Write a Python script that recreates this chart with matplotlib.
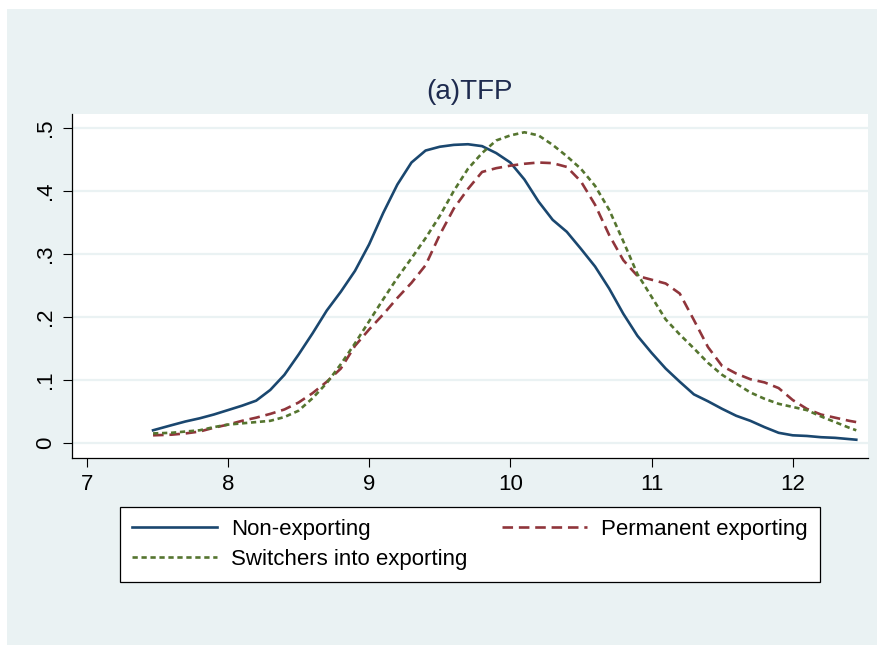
import matplotlib
matplotlib.use("Agg")
import matplotlib.pyplot as plt
from matplotlib.patches import Rectangle

# data (kernel densities of TFP)
x_tfp = [7.47, 7.6, 7.7, 7.8, 7.9, 8.0, 8.1, 8.2, 8.3, 8.4, 8.5, 8.6, 8.7, 8.8, 8.9,
         9.0, 9.1, 9.2, 9.3, 9.4, 9.5, 9.6, 9.7, 9.8, 9.9, 10.0, 10.1, 10.2, 10.3,
         10.4, 10.5, 10.6, 10.7, 10.8, 10.9, 11.0, 11.1, 11.2, 11.3, 11.4, 11.5,
         11.6, 11.7, 11.8, 11.9, 12.0, 12.1, 12.2, 12.3, 12.4, 12.45]

non_exporting = [0.020, 0.028, 0.034, 0.039, 0.045, 0.052, 0.059, 0.067, 0.084, 0.108,
                 0.140, 0.174, 0.210, 0.240, 0.273, 0.315, 0.365, 0.410, 0.445, 0.464,
                 0.470, 0.473, 0.474, 0.471, 0.460, 0.445, 0.418, 0.383, 0.354, 0.335,
                 0.308, 0.280, 0.245, 0.205, 0.170, 0.143, 0.118, 0.097, 0.077, 0.066,
                 0.054, 0.043, 0.035, 0.025, 0.016, 0.012, 0.011, 0.009, 0.008, 0.006, 0.005]

permanent = [0.012, 0.013, 0.015, 0.018, 0.024, 0.029, 0.035, 0.040, 0.046, 0.053,
             0.064, 0.079, 0.097, 0.118, 0.154, 0.180, 0.204, 0.230, 0.254, 0.282,
             0.330, 0.372, 0.403, 0.430, 0.436, 0.440, 0.443, 0.445, 0.444, 0.438,
             0.415, 0.378, 0.330, 0.290, 0.265, 0.259, 0.253, 0.237, 0.195, 0.152,
             0.122, 0.110, 0.101, 0.096, 0.087, 0.068, 0.054, 0.045, 0.040, 0.035, 0.033]

switchers = [0.015, 0.016, 0.018, 0.020, 0.025, 0.029, 0.031, 0.033, 0.035, 0.041,
             0.051, 0.071, 0.095, 0.125, 0.158, 0.193, 0.228, 0.262, 0.293, 0.325,
             0.360, 0.400, 0.435, 0.460, 0.480, 0.488, 0.493, 0.488, 0.473, 0.455,
             0.435, 0.408, 0.370, 0.320, 0.268, 0.232, 0.196, 0.172, 0.150, 0.127,
             0.108, 0.094, 0.080, 0.070, 0.062, 0.057, 0.052, 0.042, 0.033, 0.024, 0.020]

x_ticks = [7, 8, 9, 10, 11, 12]
y_ticks = [0, 0.1, 0.2, 0.3, 0.4, 0.5]
y_tick_labels = ["0", ".1", ".2", ".3", ".4", ".5"]

plt.rcParams['font.family'] = ['Liberation Sans', 'DejaVu Sans']

W, H = 878, 645
fig = plt.figure(figsize=(W / 100, H / 100), dpi=100, facecolor="white")
# stata-like light background, behind everything
bg = Rectangle((7 / W, 0), 1 - 7 / W, (H - 9) / H, transform=fig.transFigure,
               facecolor="#EAF2F3", edgecolor="none", zorder=-10)
fig.add_artist(bg)

ax = fig.add_axes([72 / W, (H - 458) / H, (868 - 72) / W, (458 - 114) / H])
ax.set_facecolor("white")

for yv in y_ticks:
    ax.axhline(yv, color="#EAF2F3", lw=1.6, zorder=1)

l1, = ax.plot(x_tfp, non_exporting, color="#1A476F", lw=1.9, zorder=3)
l2, = ax.plot(x_tfp, permanent, color="#90353B", lw=1.9, dashes=(4, 2.2), zorder=3)
l3, = ax.plot(x_tfp, switchers, color="#55752F", lw=1.9, dashes=(2, 1.4), zorder=3)

ax.set_xlim(6.896, 12.533)
ax.set_ylim(-0.024, 0.522)
ax.set_xticks(x_ticks)
ax.set_yticks(y_ticks)
ax.set_yticklabels(y_tick_labels, rotation=90, va="center")
ax.tick_params(axis="both", labelsize=16, length=6.5, width=0.8, direction="out", pad=5)

ax.spines["top"].set_visible(False)
ax.spines["right"].set_visible(False)
ax.spines["left"].set_linewidth(0.9)
ax.spines["bottom"].set_linewidth(0.9)

fig.text((72 + 868) / 2 / W, 1 - 92 / H, "(a)TFP", fontsize=20, color="#1E2B4F",
         ha="center", va="center")

# column-major fill: order so rows read Non / Permanent, then Switchers
leg = fig.legend([l1, l3, l2],
                 ["Non-exporting", "Switchers into exporting", "Permanent exporting"],
                 ncol=2, mode="expand",
                 bbox_to_anchor=(120 / W, 64 / H, 700 / W, 73 / H), loc="center",
                 fontsize=16, frameon=True, fancybox=False, framealpha=1,
                 handlelength=3.8, handletextpad=0.65, borderaxespad=0,
                 labelspacing=0.4, borderpad=0.55, columnspacing=1.0)
leg.get_frame().set_edgecolor("black")
leg.get_frame().set_facecolor("white")
leg.get_frame().set_linewidth(0.9)

fig.savefig("out.png", dpi=100, facecolor=fig.get_facecolor())
